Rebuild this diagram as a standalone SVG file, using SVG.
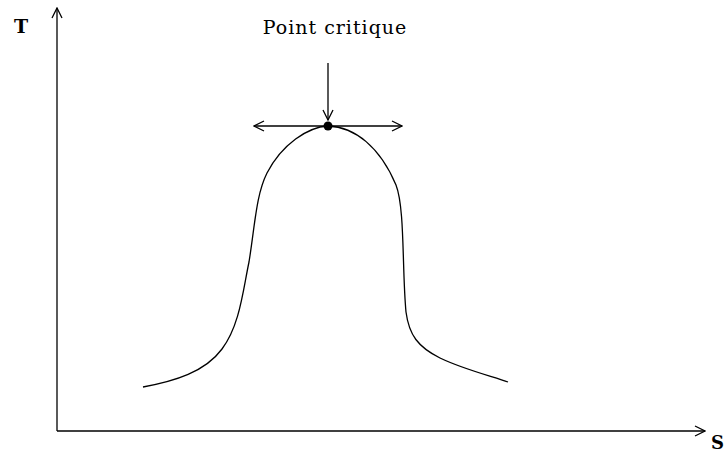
<svg xmlns="http://www.w3.org/2000/svg" width="727" height="452" viewBox="0 0 727 452">
<defs>
<style>
.ln{fill:none;stroke:#000;stroke-width:1.3}
.lbl{font-family:"DejaVu Serif","Liberation Serif",serif;fill:#000}
</style>
<marker id="open" viewBox="0 0 12 12" refX="11" refY="6" markerWidth="12" markerHeight="12" markerUnits="userSpaceOnUse" orient="auto">
<path d="M1,1 L11,6 L1,11" fill="none" stroke="#000" stroke-width="1.3"/>
</marker>
</defs>
<rect width="727" height="452" fill="#fff"/>
<g id="axes">
<line class="ln" x1="57" y1="431" x2="57" y2="8" marker-end="url(#open)"/>
<line class="ln" x1="57" y1="431" x2="705" y2="431" marker-end="url(#open)"/>
</g>
<g id="curve">
<path class="ln" d="M143,387 C175,381 205,372 222,349 C240,325 243,290 249,262 C255,225 256,195 267,173 C282,144 308,127 328,126 C355,127 380,147 396,185 C405,208 402,270 406,312 C409,335 418,347 440,358 C465,370 495,377 508,382"/>
</g>
<g id="critical-point">
<circle cx="328" cy="126" r="4.5" fill="#000"/>
</g>
<g id="connectors">
<line class="ln" x1="328" y1="63" x2="328" y2="120" marker-end="url(#open)"/>
<line class="ln" x1="328" y1="126" x2="254" y2="126" marker-end="url(#open)"/>
<line class="ln" x1="328" y1="126" x2="402" y2="126" marker-end="url(#open)"/>
</g>
<g id="labels">
<text class="lbl" x="14" y="33" font-size="19" font-weight="bold">T</text>
<text class="lbl" x="711" y="449" font-size="18" font-weight="bold">S</text>
<text class="lbl" x="335" y="34" font-size="19" letter-spacing="1" text-anchor="middle">Point critique</text>
</g>
</svg>
